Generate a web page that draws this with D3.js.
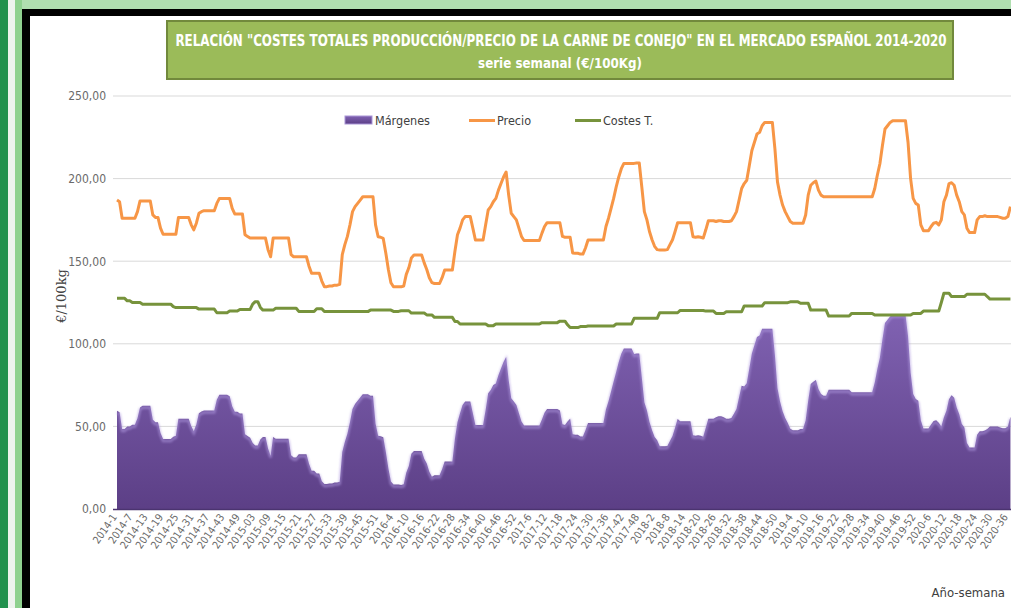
<!DOCTYPE html>
<html>
<head>
<meta charset="utf-8">
<script src="https://cdn.jsdelivr.net/npm/d3@7"></script>
<style>
  body { margin: 0; background: #fff; }
  svg { display: block; font-family: "Liberation Sans Narrow", "DejaVu Sans Condensed", "Open Sans", sans-serif; }
</style>
</head>
<body>
<svg id="chart" width="1011" height="608"></svg>
<script>
// weekly series, 2014-1 .. 2020-37 (€/100kg)
var years = [2014, 2015, 2016, 2017, 2018, 2019, 2020],
    weeksInYear = [52, 53, 52, 52, 52, 52, 37];

var precio = [
    // 2014
    187, 186, 176, 176, 176, 176, 176, 176, 180, 186.5, 186.5, 186.5, 186.5, 186.5, 178, 176.5, 176.5, 170, 166.3, 166.3,
    166.3, 166.3, 166.3, 166.3, 176.5, 176.5, 176.5, 176.5, 176.5, 172, 169, 173, 179, 180, 180.6, 180.6, 180.6, 180.6, 180.6, 185,
    188, 188, 188, 188, 188, 182, 178.6, 178.6, 178.6, 178.6, 166, 165,
    // 2015
    164, 164, 164, 164, 164, 164, 164, 157, 152.7, 164, 164, 164, 164, 164, 164, 164, 154, 152.7, 152.7, 152.7,
    152.7, 152.7, 152.7, 147, 142.7, 142.7, 142.7, 142.7, 138, 134.6, 134.6, 135, 135, 135.5, 135.5, 136, 154, 160, 165, 172,
    180, 183, 185, 187, 189, 189, 189, 189, 189, 172, 164.8, 164.5, 163.8,
    // 2016
    155, 145, 137, 134.5, 134.5, 134.5, 134.5, 135, 142, 146, 152, 153.7, 153.7, 153.7, 153.7, 149, 145, 140, 137, 136.5,
    136.5, 136.5, 140, 144.7, 144.7, 144.7, 144.7, 156, 166, 170, 175, 177, 177, 177, 170, 162.8, 162.8, 162.8, 162.8, 172,
    181, 183, 186, 188, 193, 197, 201, 204, 190, 179, 177, 175,
    // 2017
    170, 165, 162.5, 162.5, 162.5, 162.5, 162.5, 162.5, 162.5, 167, 171, 173.3, 173.3, 173.3, 173.3, 173.3, 173.3, 165, 164.5, 164.5,
    164.5, 155, 154.8, 154.8, 154.3, 154.3, 158, 162.8, 162.8, 162.8, 162.8, 162.8, 162.8, 162.8, 171, 176, 182, 188, 195, 201,
    206, 209.2, 209.2, 209.2, 209.2, 209.2, 209.5, 209.5, 195, 180, 175, 168,
    // 2018
    163, 159, 157, 156.8, 156.8, 156.8, 157, 160, 163, 168, 173.3, 173.3, 173.3, 173.3, 173.3, 173.3, 164.8, 164.5, 164.8, 164.5,
    164, 169, 174.5, 174.5, 174.5, 174, 174.5, 174.5, 174, 174, 174, 174.5, 177, 180, 187, 194, 197, 199, 208, 217,
    222, 227, 228, 232, 234, 234, 234, 234, 218, 198, 190, 184,
    // 2019
    180, 177, 174, 173, 173, 173, 173, 173, 178, 190, 196, 197.5, 198.5, 193, 190, 189, 189, 189, 189, 189,
    189, 189, 189, 189, 189, 189, 189, 189, 189, 189, 189, 189, 189, 189, 189, 194, 202, 209, 220, 230,
    232, 234, 235, 235, 235, 235, 235, 235, 222, 200, 188, 185,
    // 2020
    184, 172, 168.5, 168.5, 168.5, 171, 173, 173.5, 172, 175, 186, 190, 197, 197.5, 196, 190, 186, 180, 178, 170,
    167.3, 167.3, 167.3, 175, 177, 177, 177.5, 177, 177, 177, 177, 177, 176.5, 176, 176, 177, 183
];

var costes = [
    // 2014
    127.5, 127.5, 127.5, 127.5, 126, 126, 125, 125, 125, 125, 124, 124, 124, 124, 124, 124, 124, 124, 124, 124,
    124, 124, 122.5, 121.9, 121.9, 121.9, 121.9, 121.9, 121.9, 121.9, 121.9, 121.9, 121, 121, 121, 121, 121, 121, 121, 118.8,
    118.8, 118.8, 118.8, 118.8, 119.8, 119.8, 119.8, 119.8, 120.8, 120.8, 120.8, 120.8,
    // 2015
    120.8, 124, 125.5, 125.5, 122, 120.4, 120.4, 120.4, 120.4, 120.4, 121.5, 121.5, 121.5, 121.5, 121.5, 121.5, 121.5, 121.5, 121.5, 119.6,
    119.6, 119.6, 119.6, 119.6, 119.6, 119.6, 121.2, 121.2, 121.2, 119.5, 119.5, 119.5, 119.5, 119.5, 119.5, 119.5, 119.5, 119.5, 119.5, 119.5,
    119.5, 119.5, 119.5, 119.5, 119.5, 119.5, 119.5, 120.4, 120.4, 120.4, 120.4, 120.4, 120.4,
    // 2016
    120.4, 120.4, 120.4, 119.6, 119.6, 119.6, 120, 120, 120, 120, 118.6, 118.6, 118.6, 118.6, 118.6, 118.6, 117.5, 117.5, 117.5, 116,
    116, 116, 116, 116, 116, 116, 116, 113.5, 113.5, 112, 112, 112, 112, 112, 112, 112, 112, 112, 112, 112,
    111, 111, 111, 112, 112, 112, 112, 112, 112, 112, 112, 112,
    // 2017
    112, 112, 112, 112, 112, 112, 112, 112, 112, 112.8, 112.8, 112.8, 112.8, 112.8, 112.8, 112.8, 113.7, 113.7, 113.7, 111.5,
    109.8, 109.8, 109.8, 109.8, 110.4, 110.4, 110.4, 110.8, 110.8, 110.8, 110.8, 110.8, 110.8, 110.8, 110.8, 110.8, 110.8, 110.8, 112, 112,
    112, 112, 112, 112, 112, 115.4, 115.4, 115.4, 115.4, 115.4, 115.4, 115.4,
    // 2018
    115.4, 115.4, 115.4, 118.8, 118.8, 118.8, 118.8, 118.8, 118.8, 118.8, 118.8, 120.2, 120.2, 120.2, 120.2, 120.2, 120.2, 120.2, 120.2, 120.2,
    120.2, 119.8, 119.8, 119.8, 119.8, 118.4, 118.4, 118.4, 118.4, 119.4, 119.4, 119.4, 119.4, 119.4, 119.4, 119.4, 122.9, 122.9, 122.9, 122.9,
    122.9, 122.9, 122.9, 122.9, 124.9, 124.9, 124.9, 124.9, 124.9, 124.9, 124.9, 124.9,
    // 2019
    124.9, 124.9, 125.4, 125.4, 125.4, 125.4, 124.5, 124.5, 124.5, 124.5, 120.4, 120.4, 120.4, 120.4, 120.4, 120.4, 120.4, 116.8, 116.8, 116.8,
    116.8, 116.8, 116.8, 116.8, 116.8, 116.8, 118.4, 118.4, 118.4, 118.4, 118.4, 118.4, 118.4, 118.4, 118.4, 117.4, 117.4, 117.4, 117.4, 117.4,
    117.4, 117.4, 117.4, 117.4, 117.4, 117.4, 117.4, 117.4, 117.4, 117.4, 118.4, 118.4,
    // 2020
    118.4, 118.4, 119.8, 119.8, 119.8, 119.8, 119.8, 119.8, 119.8, 125, 130.6, 130.6, 130.6, 128.6, 128.6, 128.6, 128.6, 128.6, 128.6, 130,
    130, 130, 130, 130, 130, 130, 130, 128.5, 127.1, 127.1, 127.1, 127.1, 127.1, 127.1, 127.1, 127.1, 127.1
];

var margenes = [
    // 2014
    59.5, 58.5, 48.5, 48.5, 50, 50, 51, 51, 55, 61.5, 62.5, 62.5, 62.5, 62.5, 54, 52.5, 52.5, 46, 42.3, 42.3,
    42.3, 42.3, 43.8, 44.4, 54.6, 54.6, 54.6, 54.6, 54.6, 50.1, 47.1, 51.1, 58, 59, 59.6, 59.6, 59.6, 59.6, 59.6, 66.2,
    69.2, 69.2, 69.2, 69.2, 68.2, 62.2, 58.8, 58.8, 57.8, 57.8, 45.2, 44.2,
    // 2015
    43.2, 40, 38.5, 38.5, 42, 43.6, 43.6, 36.6, 32.3, 43.6, 42.5, 42.5, 42.5, 42.5, 42.5, 42.5, 32.5, 31.2, 31.2, 33.1,
    33.1, 33.1, 33.1, 27.4, 23.1, 23.1, 21.5, 21.5, 16.8, 15.1, 15.1, 15.5, 15.5, 16, 16, 16.5, 34.5, 40.5, 45.5, 52.5,
    60.5, 63.5, 65.5, 67.5, 69.5, 69.5, 69.5, 68.6, 68.6, 51.6, 44.4, 44.1, 43.4,
    // 2016
    34.6, 24.6, 16.6, 14.9, 14.9, 14.9, 14.5, 15, 22, 26, 33.4, 35.1, 35.1, 35.1, 35.1, 30.4, 27.5, 22.5, 19.5, 20.5,
    20.5, 20.5, 24, 28.7, 28.7, 28.7, 28.7, 42.5, 52.5, 58, 63, 65, 65, 65, 58, 50.8, 50.8, 50.8, 50.8, 60,
    70, 72, 75, 76, 81, 85, 89, 92, 78, 67, 65, 63,
    // 2017
    58, 53, 50.5, 50.5, 50.5, 50.5, 50.5, 50.5, 50.5, 54.2, 58.2, 60.5, 60.5, 60.5, 60.5, 60.5, 59.6, 51.3, 50.8, 53,
    54.7, 45.2, 45, 45, 43.9, 43.9, 47.6, 52, 52, 52, 52, 52, 52, 52, 60.2, 65.2, 71.2, 77.2, 83, 89,
    94, 97.2, 97.2, 97.2, 97.2, 93.8, 94.1, 94.1, 79.6, 64.6, 59.6, 52.6,
    // 2018
    47.6, 43.6, 41.6, 38, 38, 38, 38.2, 41.2, 44.2, 49.2, 54.5, 53.1, 53.1, 53.1, 53.1, 53.1, 44.6, 44.3, 44.6, 44.3,
    43.8, 49.2, 54.7, 54.7, 54.7, 55.6, 56.1, 56.1, 55.6, 54.6, 54.6, 55.1, 57.6, 60.6, 67.6, 74.6, 74.1, 76.1, 85.1, 94.1,
    99.1, 104.1, 105.1, 109.1, 109.1, 109.1, 109.1, 109.1, 93.1, 73.1, 65.1, 59.1,
    // 2019
    55.1, 52.1, 48.6, 47.6, 47.6, 47.6, 48.5, 48.5, 53.5, 65.5, 75.6, 77.1, 78.1, 72.6, 69.6, 68.6, 68.6, 72.2, 72.2, 72.2,
    72.2, 72.2, 72.2, 72.2, 72.2, 72.2, 70.6, 70.6, 70.6, 70.6, 70.6, 70.6, 70.6, 70.6, 70.6, 76.6, 84.6, 91.6, 102.6, 112.6,
    114.6, 116.6, 117.6, 117.6, 117.6, 117.6, 117.6, 117.6, 104.6, 82.6, 69.6, 66.6,
    // 2020
    65.6, 53.6, 48.7, 48.7, 48.7, 51.2, 53.2, 53.7, 52.2, 50, 55.4, 59.4, 66.4, 68.9, 67.4, 61.4, 57.4, 51.4, 49.4, 40,
    37.3, 37.3, 37.3, 45, 47, 47, 47.5, 48.5, 49.9, 49.9, 49.9, 49.9, 49.4, 48.9, 48.9, 49.9, 55.9
];

var tickLabels = [
    "2014-1", "2014-7", "2014-13", "2014-19", "2014-25", "2014-31", "2014-37", "2014-43", "2014-49",
    "2015-03", "2015-09", "2015-15", "2015-21", "2015-27", "2015-33", "2015-39", "2015-45", "2015-51",
    "2016-4", "2016-10", "2016-16", "2016-22", "2016-28", "2016-34", "2016-40", "2016-46", "2016-52",
    "2017-6", "2017-12", "2017-18", "2017-24", "2017-30", "2017-36", "2017-42", "2017-48",
    "2018-2", "2018-8", "2018-14", "2018-20", "2018-26", "2018-32", "2018-38", "2018-44", "2018-50",
    "2019-4", "2019-10", "2019-16", "2019-22", "2019-28", "2019-34", "2019-40", "2019-46", "2019-52",
    "2020-6", "2020-12", "2020-18", "2020-24", "2020-30", "2020-36"
];

var yTicks = [0, 50, 100, 150, 200, 250];

var seriesNames = ["Márgenes", "Precio", "Costes T."];

var colors = {
    precio: "#f79646",
    costes: "#77933c",
    margTop: "#8062b2",
    margBottom: "#5c3f86"
};

var narrow = "\"Liberation Sans Narrow\", \"DejaVu Sans Condensed\", sans-serif";

// week categories ("2014-1" ...)
var categories = [];
years.forEach(function(y, k) {
    d3.range(1, weeksInYear[k] + 1).forEach(function(w) {
        categories.push(y + "-" + w);
    });
});

var rows = categories.map(function(c, i) {
    return { cat: c, precio: precio[i], costes: costes[i], margen: margenes[i] };
});

var svg = d3.select("#chart");

/**
 * Frame round the chart (screenshot of a sheet)
 */
svg.append("rect").attr("x", 0).attr("y", 0).attr("width", 1011).attr("height", 608).attr("fill", "#fff");
svg.append("rect").attr("x", 0).attr("y", 0).attr("width", 1011).attr("height", 10).attr("fill", "#b0dfb0");
svg.append("rect").attr("x", 0).attr("y", 0).attr("width", 8).attr("height", 608).attr("fill", "#22914e");
svg.append("rect").attr("x", 8).attr("y", 0).attr("width", 7).attr("height", 608).attr("fill", "#eef3ee");
svg.append("rect").attr("x", 15).attr("y", 0).attr("width", 7).attr("height", 608).attr("fill", "#8fd18f");
svg.append("rect").attr("x", 22).attr("y", 9).attr("width", 989).attr("height", 7).attr("fill", "#000");
svg.append("rect").attr("x", 22).attr("y", 9).attr("width", 8).attr("height", 599).attr("fill", "#000");

/**
 * Title box
 */
var title = svg.append("g");
title.append("rect")
    .attr("x", 167).attr("y", 21).attr("width", 786).attr("height", 58)
    .attr("fill", "#9bbb59").attr("stroke", "#71893c").attr("stroke-width", 2);

// squeeze a title line horizontally so it fits a given width
function fitText(sel, width) {
    var len = sel.node().getComputedTextLength();
    var s = Math.min(1, width / len);
    sel.attr("transform", "translate(" + sel.attr("x") + "," + sel.attr("y") + ") scale(" + s + ",1)")
        .attr("x", 0).attr("y", 0);
}

var t1 = title.append("text")
    .attr("x", 561).attr("y", 46)
    .attr("text-anchor", "middle")
    .attr("fill", "#fff").attr("font-weight", "bold").attr("font-size", 15)
    .text("RELACIÓN \"COSTES TOTALES PRODUCCIÓN/PRECIO DE LA CARNE DE CONEJO\" EN EL MERCADO ESPAÑOL 2014-2020");
fitText(t1, 772);

var t2 = title.append("text")
    .attr("x", 560).attr("y", 68)
    .attr("text-anchor", "middle")
    .attr("fill", "#fff").attr("font-weight", "bold").attr("font-size", 14)
    .text("serie semanal (€/100Kg)");
fitText(t2, 164);

/**
 * Scales
 */
var x = d3.scalePoint()
    .domain(categories)
    .range([117, 117 + 2.56 * (categories.length - 1)]);

var y = d3.scaleLinear()
    .domain([0, 250])
    .range([509, 96]);

var fmt = d3.formatLocale({ decimal: ",", thousands: ".", grouping: [3], currency: ["", "€"] }).format(".2f");

// gridlines
svg.append("g")
    .selectAll("line")
    .data(yTicks.slice(1))
    .enter()
    .append("line")
    .attr("x1", 113).attr("x2", 1011)
    .attr("y1", function(d) { return y(d); })
    .attr("y2", function(d) { return y(d); })
    .attr("stroke", "#d9d9d9").attr("stroke-width", 1);

// y axis labels
var yAxis = svg.append("g")
    .attr("transform", "translate(109,0)")
    .call(d3.axisLeft(y).tickValues(yTicks).tickFormat(fmt).tickSize(0).tickPadding(3));
yAxis.select(".domain").remove();
yAxis.selectAll("text")
    .attr("fill", "#6a6a6a")
    .attr("font-size", 12)
    .attr("font-family", narrow);

svg.append("text")
    .attr("transform", "translate(66,296) rotate(-90)")
    .attr("text-anchor", "middle")
    .attr("fill", "#404040")
    .attr("font-size", 13)
    .attr("font-family", "\"DejaVu Serif\", serif")
    .text("€/100kg");

/**
 * Márgenes area
 */
var defs = svg.append("defs");
var grad = defs.append("linearGradient")
    .attr("id", "margGrad")
    .attr("x1", 0).attr("y1", 0).attr("x2", 0).attr("y2", 1);
grad.append("stop").attr("offset", "0%").attr("stop-color", colors.margTop);
grad.append("stop").attr("offset", "100%").attr("stop-color", colors.margBottom);

var blur = defs.append("filter").attr("id", "soft");
blur.append("feGaussianBlur").attr("stdDeviation", 1.2);

var area = d3.area()
    .x(function(d) { return x(d.cat); })
    .y0(y(0))
    .y1(function(d) { return y(d.margen); });

svg.append("path")
    .datum(rows)
    .attr("d", area)
    .attr("fill", "url(#margGrad)");

// bevel highlight along the top edge
svg.append("path")
    .datum(rows)
    .attr("d", d3.line()
        .x(function(d) { return x(d.cat); })
        .y(function(d) { return y(d.margen) + 2; }))
    .attr("fill", "none")
    .attr("stroke", "#b09ae0")
    .attr("stroke-width", 2.5)
    .attr("opacity", 0.6)
    .attr("filter", "url(#soft)");

svg.append("line")
    .attr("x1", 113).attr("x2", 1011)
    .attr("y1", y(0) + 0.5).attr("y2", y(0) + 0.5)
    .attr("stroke", "#4b3470").attr("stroke-width", 1.5);

/**
 * Lines
 */
function drawLine(key, color) {
    svg.append("path")
        .datum(rows)
        .attr("d", d3.line()
            .x(function(d) { return x(d.cat); })
            .y(function(d) { return y(d[key]); }))
        .attr("fill", "none")
        .attr("stroke", color)
        .attr("stroke-width", 3)
        .attr("stroke-linejoin", "round");
}

drawLine("costes", colors.costes);
drawLine("precio", colors.precio);

/**
 * x axis
 */
var xAxis = svg.append("g")
    .attr("transform", "translate(-3,515)")
    .call(d3.axisBottom(x)
        .tickValues(tickLabels.map(function(t, k) { return categories[k * 6]; }))
        .tickFormat(function(d, k) { return tickLabels[k]; })
        .tickSize(0));
xAxis.select(".domain").remove();
xAxis.selectAll("text")
    .attr("x", 0).attr("y", 0).attr("dy", "0.35em")
    .attr("text-anchor", "end")
    .attr("transform", "rotate(-55)")
    .attr("fill", "#6a6a6a")
    .attr("font-size", 10.5)
    .attr("font-family", narrow);

svg.append("text")
    .attr("x", 1005).attr("y", 597)
    .attr("text-anchor", "end")
    .attr("fill", "#404040")
    .attr("font-size", 13)
    .text("Año-semana");

/**
 * Legend
 */
var legend = svg.append("g").attr("font-size", 12.5).attr("fill", "#404040");
legend.append("rect")
    .attr("x", 345).attr("y", 116).attr("width", 27).attr("height", 8)
    .attr("fill", "url(#margGrad)").attr("stroke", "#a995d6").attr("stroke-width", 1);
legend.append("text").attr("x", 375).attr("y", 125).text(seriesNames[0]);
legend.append("line")
    .attr("x1", 469).attr("x2", 495).attr("y1", 120.5).attr("y2", 120.5)
    .attr("stroke", colors.precio).attr("stroke-width", 3);
legend.append("text").attr("x", 497).attr("y", 125).text(seriesNames[1]);
legend.append("line")
    .attr("x1", 575).attr("x2", 601).attr("y1", 120.5).attr("y2", 120.5)
    .attr("stroke", colors.costes).attr("stroke-width", 3);
legend.append("text").attr("x", 603).attr("y", 125).text(seriesNames[2]);
</script>
</body>
</html>
